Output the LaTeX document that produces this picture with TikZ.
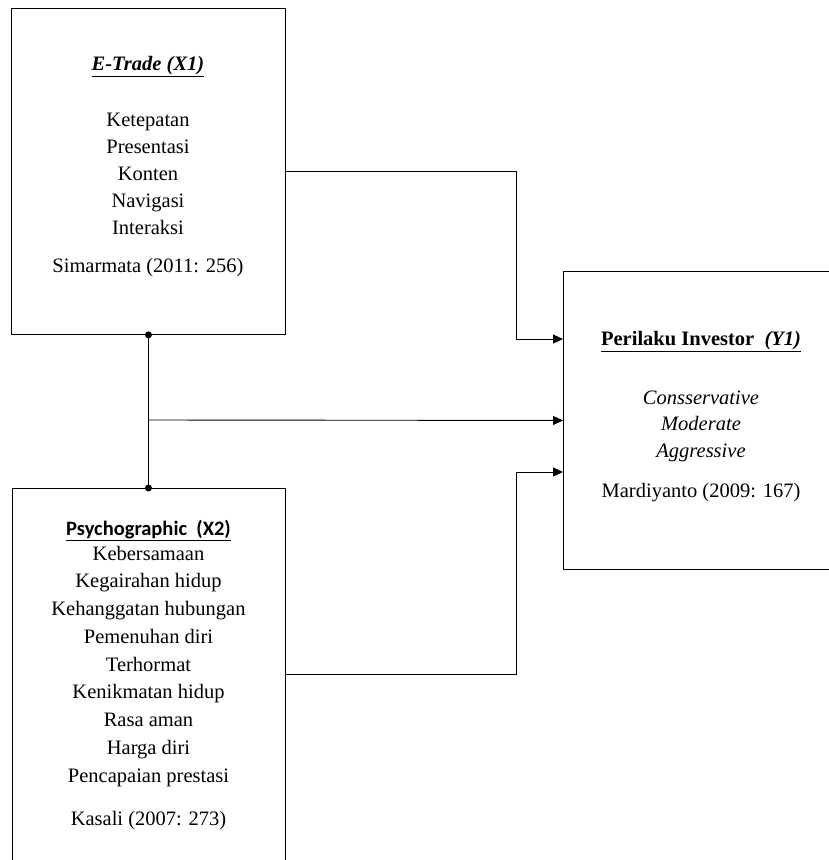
\documentclass[tikz,border=0pt]{standalone}
\usepackage{fontspec}
\setmainfont{Liberation Serif}
\newfontfamily\calibri{Carlito}
\usetikzlibrary{arrows.meta}
\begin{document}
\begin{tikzpicture}[x=1pt,y=-1pt,
  box/.style={draw, line width=0.9pt, anchor=north west, inner sep=0pt},
  txt/.style={anchor=base, inner sep=0pt, font=\fontsize{20.5}{27}\selectfont},
  conn/.style={line width=0.9pt},
  arr/.style={line width=0.9pt, -{Triangle[length=10pt,width=9pt]}},
  dot/.style={circle, fill, inner sep=0pt, minimum size=7pt}]
\useasboundingbox (0,0) rectangle (829,860);
\clip (0,0) rectangle (829,860);
% boxes
\node[box, minimum width=274pt, minimum height=326pt] (x1) at (11,8) {};
\node[box, minimum width=273pt, minimum height=420pt] (x2) at (12,488) {};
\node[box, minimum width=320pt, minimum height=298pt] (y1) at (563,271) {};
% E-Trade texts
\node[txt] (t1) at (148,70) {\underline{\textbf{\textit{E-Trade (X1)}}}};
\foreach \t [count=\i] in {Ketepatan,Presentasi,Konten,Navigasi,Interaksi}
  \node[txt] (e\i) at (148,{126+27*(\i-1)}) {\t};
\node[txt] (s1) at (148,272) {Simarmata (2011: 256)};
% Psychographic texts
\node[txt] (t2) at (148.5,535) {\calibri\bfseries\underline{Psychographic\ \ (X2)}};
\foreach \t [count=\i] in {Kebersamaan,Kegairahan hidup,Kehanggatan hubungan,Pemenuhan diri,Terhormat,Kenikmatan hidup,Rasa aman,Harga diri,Pencapaian prestasi}
  \node[txt] (p\i) at (148.5,{560+27.75*(\i-1)}) {\t};
\node[txt] (s2) at (148.5,825) {Kasali (2007: 273)};
% Perilaku texts
\node[txt] (t3) at (701,345) {\underline{\textbf{Perilaku Investor\ \ \textit{(Y1)}}}};
\node[txt] (c1) at (701,404) {\textit{Consservative}};
\node[txt] (c2) at (701,430.5) {\textit{Moderate}};
\node[txt] (c3) at (701,457) {\textit{Aggressive}};
\node[txt] (s3) at (701,497) {Mardiyanto (2009: 167)};
% connectors
\coordinate (k1) at (516,339);
\coordinate (b1) at (285,674);
\coordinate (k2) at (516,472);
\coordinate (j) at (148,420);
\draw[arr] (x1.east) -| (k1) -- (k1 -| y1.west);
\draw[arr] (b1) -| (k2) -- (k2 -| y1.west);
\draw[conn] (x1.south) -- (x2.north -| x1.south);
\draw[arr] (j) -- (y1.west);
\node[dot] (d1) at (x1.south) {};
\node[dot] (d2) at (x2.north -| x1.south) {};
\end{tikzpicture}
\end{document}
